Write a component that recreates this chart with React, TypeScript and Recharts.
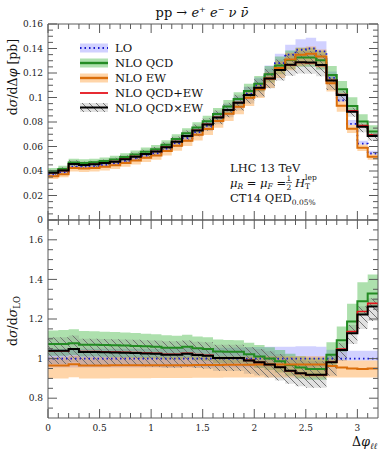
import React from 'react';
import { ComposedChart, Area, Line, XAxis, YAxis } from 'recharts';

// bin edges in Delta phi_ll (32 bins of 0.1)
const binEdges = [
  0, 0.1, 0.2, 0.3, 0.4, 0.5, 0.6, 0.7, 0.8, 0.9, 1, 1.1, 1.2, 1.3, 1.4, 1.5, 1.6,
  1.7, 1.8, 1.9, 2, 2.1, 2.2, 2.3, 2.4, 2.5, 2.6, 2.7, 2.8, 2.9, 3, 3.1, 3.2,
];

// LO cross section per bin [pb]
const loXsec = [
  0.0371, 0.0388, 0.0436, 0.0435, 0.044, 0.045, 0.0462, 0.0482, 0.0503, 0.0525, 0.0545,
  0.0583, 0.0627, 0.0669, 0.0718, 0.0768, 0.0835, 0.0895, 0.0955, 0.103, 0.11, 0.119,
  0.128, 0.135, 0.139, 0.14, 0.1376, 0.116, 0.0977, 0.0784, 0.0623, 0.0543,
];

// ratios to LO
const ratioQcd = [
  1.074, 1.074, 1.078, 1.07, 1.07, 1.069, 1.067, 1.066, 1.064, 1.062, 1.06, 1.055, 1.055,
  1.06, 1.052, 1.049, 1.036, 1.035, 1.035, 1.022, 1.011, 1.0, 0.986, 0.968, 0.955, 0.947,
  0.947, 1.02, 1.093, 1.187, 1.29, 1.329,
];
const ratioEw = [
  0.965, 0.965, 0.972, 0.965, 0.965, 0.965, 0.966, 0.966, 0.966, 0.966, 0.967, 0.967,
  0.967, 0.967, 0.968, 0.968, 0.968, 0.969, 0.969, 0.969, 0.97, 0.97, 0.97, 0.97, 0.97,
  0.97, 0.97, 0.962, 0.955, 0.95, 0.948, 0.95,
];
const ratioQcdPlusEw = [
  1.039, 1.039, 1.05, 1.035, 1.035, 1.034, 1.033, 1.032, 1.03, 1.028, 1.027, 1.022, 1.022,
  1.027, 1.02, 1.017, 1.004, 1.004, 1.004, 0.991, 0.981, 0.97, 0.956, 0.938, 0.925, 0.917,
  0.917, 0.982, 1.048, 1.137, 1.238, 1.279,
];
const ratioQcdTimesEw = [
  1.04, 1.04, 1.049, 1.033, 1.033, 1.032, 1.031, 1.03, 1.028, 1.026, 1.025, 1.02, 1.02,
  1.025, 1.018, 1.015, 1.003, 1.003, 1.003, 0.99, 0.981, 0.97, 0.956, 0.939, 0.926, 0.919,
  0.919, 0.981, 1.044, 1.128, 1.223, 1.263,
];

// uncertainty bands (ratio to LO)
const loBandLo = [
  0.955, 0.955, 0.955, 0.955, 0.955, 0.955, 0.955, 0.955, 0.955, 0.955, 0.955, 0.955,
  0.955, 0.955, 0.955, 0.955, 0.955, 0.955, 0.955, 0.955, 0.955, 0.955, 0.955, 0.955,
  0.955, 0.955, 0.96, 0.985, 0.99, 0.99, 0.99, 0.99,
];
const loBandHi = [
  1.05, 1.05, 1.05, 1.05, 1.05, 1.05, 1.05, 1.05, 1.05, 1.05, 1.05, 1.052, 1.052, 1.053,
  1.053, 1.054, 1.055, 1.055, 1.056, 1.057, 1.058, 1.06, 1.06, 1.06, 1.062, 1.062, 1.06,
  1.045, 1.04, 1.04, 1.04, 1.04,
];
const qcdBandLo = [
  1.014, 1.014, 1.018, 1.01, 1.01, 1.009, 1.007, 1.006, 1.004, 1.002, 1.0, 0.995, 0.995,
  1.0, 0.992, 0.989, 0.977, 0.976, 0.976, 0.964, 0.953, 0.943, 0.93, 0.913, 0.9, 0.893,
  0.893, 0.962, 1.035, 1.125, 1.225, 1.26,
];
const qcdBandHi = [
  1.142, 1.144, 1.148, 1.14, 1.138, 1.136, 1.134, 1.132, 1.129, 1.126, 1.123, 1.118, 1.116,
  1.12, 1.112, 1.108, 1.096, 1.094, 1.093, 1.08, 1.069, 1.057, 1.043, 1.025, 1.012, 1.004,
  1.004, 1.083, 1.162, 1.277, 1.386, 1.425,
];
const ewBandLo = [
  0.9, 0.9, 0.906, 0.9, 0.9, 0.9, 0.901, 0.901, 0.901, 0.901, 0.902, 0.902, 0.902, 0.902,
  0.903, 0.903, 0.903, 0.904, 0.904, 0.904, 0.905, 0.905, 0.905, 0.905, 0.905, 0.905, 0.905,
  0.905, 0.905, 0.905, 0.905, 0.905,
];
const ewBandHi = [
  1.007, 1.007, 1.014, 1.007, 1.007, 1.007, 1.008, 1.008, 1.008, 1.008, 1.009, 1.009, 1.009,
  1.009, 1.01, 1.01, 1.01, 1.011, 1.011, 1.011, 1.012, 1.012, 1.012, 1.012, 1.012, 1.012,
  1.012, 1.0, 0.993, 0.99, 0.99, 0.99,
];
const mixBandLo = [
  0.973, 0.973, 0.982, 0.967, 0.967, 0.966, 0.965, 0.964, 0.962, 0.96, 0.959, 0.954, 0.954,
  0.959, 0.952, 0.949, 0.937, 0.937, 0.937, 0.924, 0.915, 0.904, 0.89, 0.873, 0.86, 0.853,
  0.853, 0.914, 0.99, 1.074, 1.15, 1.19,
];
const mixBandHi = [
  1.108, 1.108, 1.117, 1.1, 1.1, 1.099, 1.098, 1.097, 1.095, 1.093, 1.092, 1.087, 1.087,
  1.092, 1.085, 1.082, 1.07, 1.07, 1.07, 1.057, 1.048, 1.037, 1.023, 1.006, 0.993, 0.986,
  0.986, 1.02, 1.08, 1.17, 1.265, 1.305,
];

// ticks
const xTicks = [
  0, 0.1, 0.2, 0.3, 0.4, 0.5, 0.6, 0.7, 0.8, 0.9, 1, 1.1, 1.2, 1.3, 1.4, 1.5, 1.6, 1.7,
  1.8, 1.9, 2, 2.1, 2.2, 2.3, 2.4, 2.5, 2.6, 2.7, 2.8, 2.9, 3, 3.1,
];
const xMajor = [0, 0.5, 1, 1.5, 2, 2.5, 3];
const xLabels = ['0', '0.5', '1', '1.5', '2', '2.5', '3'];
const yTopTicks = [
  0, 0.005, 0.01, 0.015, 0.02, 0.025, 0.03, 0.035, 0.04, 0.045, 0.05, 0.055, 0.06, 0.065,
  0.07, 0.075, 0.08, 0.085, 0.09, 0.095, 0.1, 0.105, 0.11, 0.115, 0.12, 0.125, 0.13, 0.135,
  0.14, 0.145, 0.15, 0.155, 0.16,
];
const yTopMajor = [0, 0.02, 0.04, 0.06, 0.08, 0.1, 0.12, 0.14, 0.16];
const yTopLabels = ['0', '0.02', '0.04', '0.06', '0.08', '0.1', '0.12', '0.14', '0.16'];
const yRatioTicks = [
  0.75, 0.8, 0.85, 0.9, 0.95, 1, 1.05, 1.1, 1.15, 1.2, 1.25, 1.3, 1.35, 1.4, 1.45, 1.5,
  1.55, 1.6, 1.65,
];
const yRatioMajor = [0.8, 1, 1.2, 1.4, 1.6];
const yRatioLabels = ['0.8', '1', '1.2', '1.4', '1.6'];

const FONT = '"DejaVu Serif", "Liberation Serif", serif';
const AXIS = '#5a5a5a';

const C = {
  loLine: '#1a1ad0',
  loBand: '#8c8cff',
  qcdLine: '#238b23',
  qcdBand: '#3cb43c',
  ewLine: '#db6e0a',
  ewBand: '#ff9a33',
  red: '#e5141c',
  black: '#000000',
};

const rows = binEdges.map((x, i) => {
  const b = Math.min(i, loXsec.length - 1);
  const lo = loXsec[b];
  return {
    x,
    lo,
    qcd: lo * ratioQcd[b],
    ew: lo * ratioEw[b],
    plus: lo * ratioQcdPlusEw[b],
    times: lo * ratioQcdTimesEw[b],
    loBand: [lo * loBandLo[b], lo * loBandHi[b]],
    qcdBand: [lo * qcdBandLo[b], lo * qcdBandHi[b]],
    ewBand: [lo * ewBandLo[b], lo * ewBandHi[b]],
    timesBand: [lo * mixBandLo[b], lo * mixBandHi[b]],
    rLo: lo / lo,
    rQcd: ratioQcd[b],
    rEw: ratioEw[b],
    rPlus: ratioQcdPlusEw[b],
    rTimes: ratioQcdTimesEw[b],
    rLoBand: [loBandLo[b], loBandHi[b]],
    rQcdBand: [qcdBandLo[b], qcdBandHi[b]],
    rEwBand: [ewBandLo[b], ewBandHi[b]],
    rTimesBand: [mixBandLo[b], mixBandHi[b]],
  };
});

type Side = 'left' | 'right' | 'top' | 'bottom';

const tickRenderer =
  (side: Side, majors: number[], labels?: string[]) =>
  (props: any) => {
    const { x, y, payload } = props;
    const idx = majors.indexOf(payload.value);
    const len = idx >= 0 ? 9 : 5;
    let line;
    if (side === 'left') line = <line x1={x} y1={y} x2={x + len} y2={y} stroke={AXIS} />;
    else if (side === 'right') line = <line x1={x} y1={y} x2={x - len} y2={y} stroke={AXIS} />;
    else if (side === 'top') line = <line x1={x} y1={y} x2={x} y2={y + len} stroke={AXIS} />;
    else line = <line x1={x} y1={y} x2={x} y2={y - len} stroke={AXIS} />;
    let label = null;
    if (labels && idx >= 0) {
      label =
        side === 'left' ? (
          <text x={x - 5} y={y} dy="0.35em" textAnchor="end" fontSize={9} fontFamily={FONT} fill="#222">
            {labels[idx]}
          </text>
        ) : (
          <text x={x} y={y + 13} textAnchor="middle" fontSize={9} fontFamily={FONT} fill="#222">
            {labels[idx]}
          </text>
        );
    }
    return (
      <g>
        {line}
        {label}
      </g>
    );
  };

const Hatch = ({ id }: { id: string }) => (
  <defs>
    <pattern id={id} patternUnits="userSpaceOnUse" width={7} height={7}>
      <rect width={7} height={7} fill="rgba(120,120,120,0.22)" />
      <path d="M-1,-1 L8,8 M-1,6 L1,8 M6,-1 L8,1" stroke="#6a6a6a" strokeWidth={0.9} />
    </pattern>
  </defs>
);

function axes(yDomain: [number, number], yTicks: number[], yMajor: number[], yLabels: string[], showX: boolean) {
  const common = {
    tickSize: 0,
    tickMargin: 0,
    tickLine: false,
    interval: 0 as const,
    allowDataOverflow: true,
    axisLine: { stroke: AXIS },
  };
  return [
    <XAxis key="xb" xAxisId="b" dataKey="x" type="number" domain={[0, 3.2]} ticks={xTicks} height={1}
      tick={tickRenderer('bottom', xMajor, showX ? xLabels : undefined)} {...common} />,
    <XAxis key="xt" xAxisId="t" orientation="top" dataKey="x" type="number" domain={[0, 3.2]} ticks={xTicks} height={1}
      tick={tickRenderer('top', xMajor)} {...common} />,
    <YAxis key="yl" yAxisId="l" type="number" domain={yDomain} ticks={yTicks} width={1}
      tick={tickRenderer('left', yMajor, yLabels)} {...common} />,
    <YAxis key="yr" yAxisId="r" orientation="right" type="number" domain={yDomain} ticks={yTicks} width={1}
      tick={tickRenderer('right', yMajor)} {...common} />,
  ];
}

function series(prefix: '' | 'r', hatchId: string) {
  const k = (a: string, b: string) => (prefix === 'r' ? b : a);
  const s = { xAxisId: 'b', yAxisId: 'l', type: 'stepAfter' as const, isAnimationActive: false };
  return [
    <Area key="a1" {...s} dataKey={k('loBand', 'rLoBand')} stroke="none" fill={C.loBand} fillOpacity={0.4} />,
    <Area key="a2" {...s} dataKey={k('qcdBand', 'rQcdBand')} stroke="none" fill={C.qcdBand} fillOpacity={0.42} />,
    <Area key="a3" {...s} dataKey={k('ewBand', 'rEwBand')} stroke="none" fill={C.ewBand} fillOpacity={0.42} />,
    <Area key="a4" {...s} dataKey={k('timesBand', 'rTimesBand')} stroke="none" fill={`url(#${hatchId})`} fillOpacity={1} />,
    <Line key="l1" {...s} dataKey={k('lo', 'rLo')} stroke={C.loLine} strokeWidth={1.8} strokeDasharray="1.5 3" dot={false} />,
    <Line key="l2" {...s} dataKey={k('qcd', 'rQcd')} stroke={C.qcdLine} strokeWidth={2} dot={false} />,
    <Line key="l3" {...s} dataKey={k('ew', 'rEw')} stroke={C.ewLine} strokeWidth={2} dot={false} />,
    <Line key="l4" {...s} dataKey={k('plus', 'rPlus')} stroke={C.red} strokeWidth={1.6} dot={false} />,
    <Line key="l5" {...s} dataKey={k('times', 'rTimes')} stroke={C.black} strokeWidth={2} dot={false} />,
  ];
}

function LegendRow({ y, kind, label }: { y: number; kind: string; label: string }) {
  const x0 = 80;
  const x1 = 108;
  let band = null;
  let line = null;
  if (kind === 'lo') {
    band = <rect x={x0} y={y - 4.5} width={x1 - x0} height={9} fill={C.loBand} fillOpacity={0.4} />;
    line = <line x1={x0} x2={x1} y1={y} y2={y} stroke={C.loLine} strokeWidth={1.8} strokeDasharray="1.5 3" />;
  } else if (kind === 'qcd') {
    band = <rect x={x0} y={y - 4.5} width={x1 - x0} height={9} fill={C.qcdBand} fillOpacity={0.42} />;
    line = <line x1={x0} x2={x1} y1={y} y2={y} stroke={C.qcdLine} strokeWidth={2.4} />;
  } else if (kind === 'ew') {
    band = <rect x={x0} y={y - 4.5} width={x1 - x0} height={9} fill={C.ewBand} fillOpacity={0.42} />;
    line = <line x1={x0} x2={x1} y1={y} y2={y} stroke={C.ewLine} strokeWidth={2.4} />;
  } else if (kind === 'plus') {
    line = <line x1={x0} x2={x1} y1={y} y2={y} stroke={C.red} strokeWidth={1.8} />;
  } else {
    band = <rect x={x0} y={y - 4.5} width={x1 - x0} height={9} fill="url(#hatchLegend)" />;
    line = <line x1={x0} x2={x1} y1={y} y2={y} stroke={C.black} strokeWidth={2} />;
  }
  return (
    <g>
      {band}
      {line}
      <text x={115} y={y} dy="0.35em" fontSize={11.5} fontFamily={FONT} fill="#111">
        {label}
      </text>
    </g>
  );
}

export default function App() {
  return (
    <div style={{ position: 'fixed', left: 0, top: 0, width: 390, height: 451, background: '#fff' }}>
      <div style={{ position: 'absolute', left: 0, top: 0 }}>
        <ComposedChart width={390} height={232} data={rows} margin={{ top: 23, right: 11, bottom: 11, left: 47 }}>
          <Hatch id="hatchTop" />
          {axes([0, 0.16], yTopTicks, yTopMajor, yTopLabels, false)}
          {series('', 'hatchTop')}
        </ComposedChart>
      </div>
      <div style={{ position: 'absolute', left: 0, top: 200 }}>
        <ComposedChart width={390} height={251} data={rows} margin={{ top: 19, right: 11, bottom: 32, left: 47 }}>
          <Hatch id="hatchRatio" />
          {axes([0.7, 1.7], yRatioTicks, yRatioMajor, yRatioLabels, true)}
          {series('r', 'hatchRatio')}
        </ComposedChart>
      </div>
      <svg width={390} height={451} style={{ position: 'absolute', left: 0, top: 0, pointerEvents: 'none' }}>
        <Hatch id="hatchLegend" />
        <text x={202} y={17} textAnchor="middle" fontSize={13} fontFamily={FONT} fill="#111">
          pp → <tspan fontStyle="italic">e</tspan>
          <tspan fontSize={8} dy={-5}>+</tspan>
          <tspan dy={5}> </tspan>
          <tspan fontStyle="italic">e</tspan>
          <tspan fontSize={8} dy={-5}>−</tspan>
          <tspan dy={5}> </tspan>
          <tspan fontStyle="italic">ν ν̄</tspan>
        </text>
        <text transform="translate(17,77) rotate(-90)" textAnchor="middle" fontSize={12.5} fontFamily={FONT} fill="#111">
          d<tspan fontStyle="italic">σ</tspan>/dΔ<tspan fontStyle="italic">φ</tspan> [pb]
        </text>
        <text transform="translate(17,321) rotate(-90)" textAnchor="middle" fontSize={12.5} fontFamily={FONT} fill="#111">
          d<tspan fontStyle="italic">σ</tspan>/d<tspan fontStyle="italic">σ</tspan>
          <tspan fontSize={8.5} dy={3}>LO</tspan>
        </text>
        <text x={377} y={446} textAnchor="end" fontSize={12.5} fontFamily={FONT} fill="#111">
          Δ<tspan fontStyle="italic">φ</tspan>
          <tspan fontSize={8.5} dy={3} fontStyle="italic">ℓℓ</tspan>
        </text>
        <LegendRow y={48} kind="lo" label="LO" />
        <LegendRow y={63} kind="qcd" label="NLO QCD" />
        <LegendRow y={78} kind="ew" label="NLO EW" />
        <LegendRow y={93} kind="plus" label="NLO QCD+EW" />
        <LegendRow y={107.5} kind="times" label="NLO QCD×EW" />
        <text x={230} y={172} fontSize={11.5} fontFamily={FONT} fill="#111">LHC 13 TeV</text>
        <text x={230} y={187} fontSize={11.5} fontFamily={FONT} fill="#111">
          <tspan fontStyle="italic">μ</tspan>
          <tspan fontSize={7.5} dy={2} fontStyle="italic">R</tspan>
          <tspan dy={-2}> = </tspan>
          <tspan fontStyle="italic">μ</tspan>
          <tspan fontSize={7.5} dy={2} fontStyle="italic">F</tspan>
          <tspan dy={-2}> = </tspan>
        </text>
        <text x={289} y={181} fontSize={7.5} fontFamily={FONT} fill="#111" textAnchor="middle">1</text>
        <line x1={286} x2={292} y1={182.5} y2={182.5} stroke="#111" strokeWidth={0.6} />
        <text x={289} y={189.5} fontSize={7.5} fontFamily={FONT} fill="#111" textAnchor="middle">2</text>
        <text x={295} y={187} fontSize={11.5} fontFamily={FONT} fill="#111">
          <tspan fontStyle="italic">H</tspan>
          <tspan fontSize={7.5} dy={2}>T</tspan>
          <tspan fontSize={7.5} dx={-5} dy={-9}>lep</tspan>
        </text>
        <text x={230} y={202} fontSize={11.5} fontFamily={FONT} fill="#111">
          CT14 QED<tspan fontSize={7.5} dy={3}>0.05%</tspan>
        </text>
      </svg>
    </div>
  );
}
